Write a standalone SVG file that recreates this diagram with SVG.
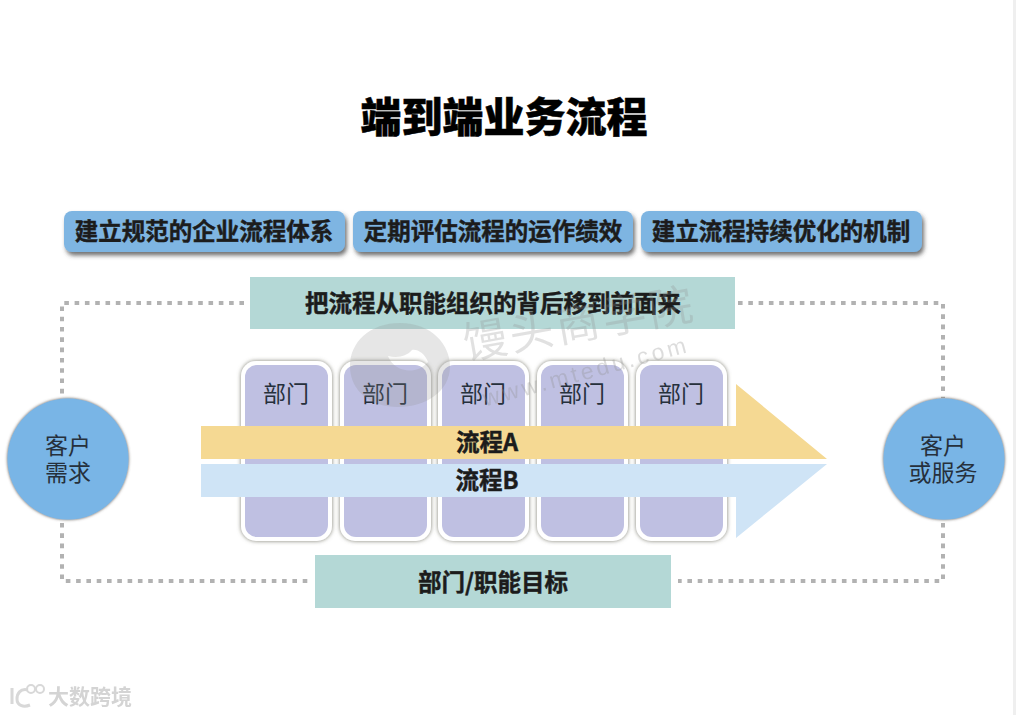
<svg xmlns="http://www.w3.org/2000/svg" width="1016" height="715" viewBox="0 0 1016 715">
<defs>
<filter id="sh" x="-10%" y="-20%" width="120%" height="160%"><feDropShadow dx="2" dy="3.5" stdDeviation="2" flood-color="#444" flood-opacity=".75"/></filter>
<filter id="card" x="-10%" y="-10%" width="120%" height="120%"><feDropShadow dx="0" dy="0" stdDeviation="2" flood-color="#77776a" flood-opacity=".95"/></filter>
<filter id="ring" x="-10%" y="-10%" width="120%" height="120%"><feDropShadow dx="0" dy="0" stdDeviation="1.6" flood-color="#55504a" flood-opacity="1"/></filter>
<filter id="soft" x="-10%" y="-10%" width="120%" height="120%"><feGaussianBlur stdDeviation=".7"/></filter>
</defs>
<style>
text{font-family:"Noto Sans CJK SC","Liberation Sans",sans-serif;text-anchor:middle;fill:#1c1c1c}
.b{font-weight:700;font-size:23.5px;stroke:#1c1c1c;stroke-width:.45px}
.r{font-weight:400;font-size:23px;fill:#26303c}
.t{font-size:41px;font-weight:900;fill:#000;stroke:#000;stroke-width:.5px}
.blue{fill:#7eb5e2;filter:url(#sh)}
.teal{fill:#b4d8d6}
.cardo{fill:#fff;filter:url(#card)}
.cardi{fill:#bfc0e2}
.circ{fill:#79b5e6;filter:url(#ring)}
.dash{fill:none;stroke:#b2b2b2;stroke-width:4;stroke-dasharray:4.6 5.7}
.wm{fill:#8f8f8f;opacity:.22}
</style>
<rect width="1016" height="715" fill="#fff"/>
<rect x="1013" width="3" height="715" fill="#efefef"/>
<text class="t" x="504" y="132">端到端业务流程</text>

<g id="connectors">
<path class="dash" d="M244 303H62V398"/>
<path class="dash" d="M738 303H943V398"/>
<path class="dash" d="M62 523V581H312"/>
<path class="dash" d="M943 523V581H678"/>
</g>

<g id="top1"><rect class="blue" x="64" y="211" width="281" height="41" rx="8"/><text class="b" x="204" y="240">建立规范的企业流程体系</text></g>
<g id="top2"><rect class="blue" x="353" y="211" width="280" height="41" rx="8"/><text class="b" x="493" y="240">定期评估流程的运作绩效</text></g>
<g id="top3"><rect class="blue" x="641" y="211" width="281" height="41" rx="8"/><text class="b" x="781" y="240">建立流程持续优化的机制</text></g>

<g id="banner-top"><rect class="teal" x="250" y="277" width="485" height="52"/><text class="b" x="493" y="312">把流程从职能组织的背后移到前面来</text></g>
<g id="banner-bottom"><rect class="teal" x="315" y="555" width="356" height="53"/><text class="b" x="493" y="591">部门/职能目标</text></g>

<g id="dept1"><rect class="cardo" x="241" y="361" width="91" height="180" rx="15"/><rect class="cardi" x="245" y="365" width="83" height="172" rx="12"/><text class="r" x="286" y="402">部门</text></g>
<g id="dept2"><rect class="cardo" x="340" y="361" width="91" height="180" rx="15"/><rect class="cardi" x="344" y="365" width="83" height="172" rx="12"/><text class="r" x="385" y="402">部门</text></g>
<g id="dept3"><rect class="cardo" x="438" y="361" width="91" height="180" rx="15"/><rect class="cardi" x="442" y="365" width="83" height="172" rx="12"/><text class="r" x="483" y="402">部门</text></g>
<g id="dept4"><rect class="cardo" x="537" y="361" width="91" height="180" rx="15"/><rect class="cardi" x="541" y="365" width="83" height="172" rx="12"/><text class="r" x="582" y="402">部门</text></g>
<g id="dept5"><rect class="cardo" x="636" y="361" width="91" height="180" rx="15"/><rect class="cardi" x="640" y="365" width="83" height="172" rx="12"/><text class="r" x="681" y="402">部门</text></g>

<g id="flowA"><polygon points="201,426 736,426 736,384 827,459 201,459" fill="#f5d993"/><text class="b" x="487" y="451">流程A</text></g>
<g id="flowB"><polygon points="201,464 827,464 736,538 736,497 201,497" fill="#cfe4f6"/><text class="b" x="487" y="489">流程B</text></g>

<g id="customer-need"><circle class="circ" cx="68" cy="459" r="60.5"/><text class="r" x="68" y="454">客户<tspan x="68" dy="27">需求</tspan></text></g>
<g id="customer-service"><circle class="circ" cx="944" cy="459" r="60.5"/><text class="r" x="943" y="454">客户<tspan x="943" dy="27">或服务</tspan></text></g>

<g id="watermark">
<path class="wm" fill-rule="evenodd" d="M400 323C432 323 450 345 450 366C450 392 425 407 398 407C372 407 350 392 350 366C350 342 370 323 400 323ZM412 350C406 357 397 358 388 356C394 372 416 376 428 362C425 354 418 349 412 350Z"/>
<text class="wm" transform="translate(582 339) rotate(-10)" style="font-size:44px;letter-spacing:3px;font-weight:400;opacity:.26">馒头商学院</text>
<text class="wm" transform="translate(588 379) rotate(-15)" style="font-size:23px;letter-spacing:3.4px;font-family:'Liberation Sans',sans-serif;opacity:.3">www.mtedu.com</text>
<g filter="url(#soft)">
<path d="M12 688V704M28 690C20 688 17 694 17 699C17 705 23 708 30 705" fill="none" stroke="#d8d8d8" stroke-width="3"/>
<circle cx="31" cy="689" r="4" fill="none" stroke="#d8d8d8" stroke-width="2"/>
<circle cx="40" cy="689" r="4" fill="none" stroke="#d8d8d8" stroke-width="2"/>
<text x="90" y="704" style="font-size:21px;font-weight:700;fill:#d4d4d4">大数跨境</text>
</g>
</g>
</svg>
